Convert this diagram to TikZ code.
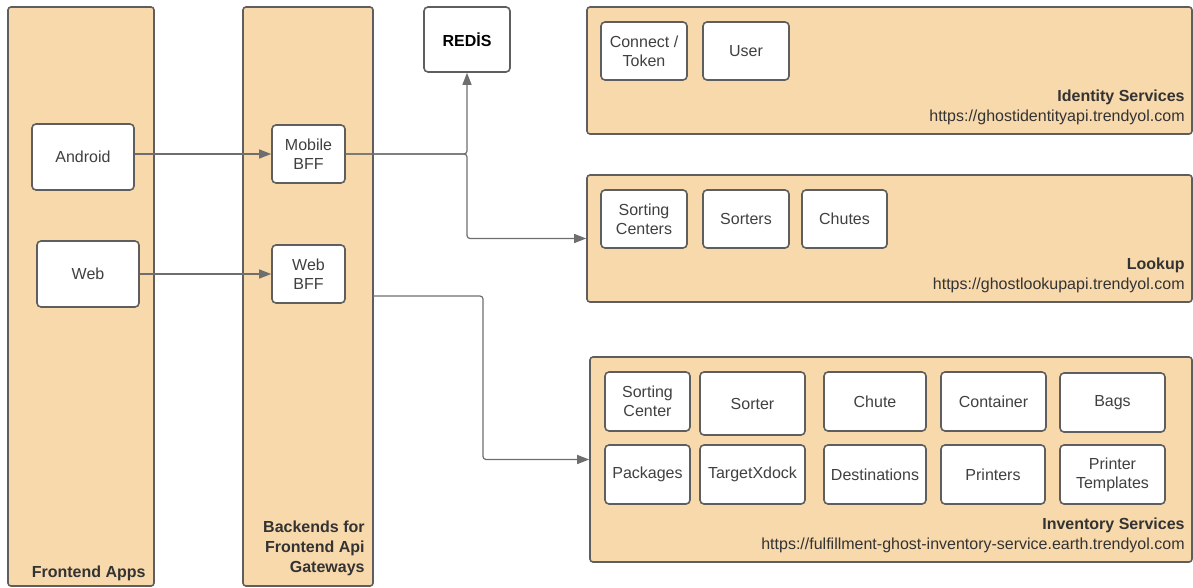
\documentclass[tikz,border=0pt]{standalone}
\usepackage{fontspec}
\setmainfont{Liberation Sans}
\usetikzlibrary{arrows.meta}

\definecolor{groupfill}{HTML}{F8D9AC}
\definecolor{edgegray}{HTML}{5E5E5E}
\definecolor{textgray}{HTML}{404040}
\definecolor{linegray}{HTML}{6E6E6E}

\begin{document}
\begin{tikzpicture}[
    x=1pt, y=-1pt,
    every node/.style={font=\fontsize{16}{19}\selectfont, text=textgray},
    group/.style={draw=edgegray, line width=1.6pt, fill=groupfill, rounded corners=3pt, inner sep=0pt},
    box/.style={draw=edgegray, line width=1.6pt, fill=white, rounded corners=4pt, align=center,
        inner sep=0pt, minimum width=86pt, minimum height=58pt},
    title/.style={anchor=south east, align=right, inner sep=0pt, font=\fontsize{16}{20}\selectfont, text=black!80},
    conn/.style={draw=linegray, line width=1.2pt, rounded corners=3pt, -{Triangle[length=12pt,width=9pt]}}
]
    \useasboundingbox (0,0) rectangle (1193,588);

    % groups
    \node[group, minimum width=146, minimum height=579] (fecol) at (81,296.5) {};
    \node[group, minimum width=130, minimum height=579] (bffcol) at (308,296.5) {};
    \node[group, minimum width=605, minimum height=127] (identity) at (889.5,70.5) {};
    \node[group, minimum width=605, minimum height=127] (lookup) at (889.5,238.5) {};
    \node[group, minimum width=602, minimum height=205] (inventory) at (891,459.5) {};

    \node[title] at ([shift={(-9,-6)}]fecol.south east) {\textbf{Frontend Apps}};
    \node[title] at ([shift={(-9,-11)}]bffcol.south east) {\textbf{Backends for}\\\textbf{Frontend Api}\\\textbf{Gateways}};
    \node[title] at ([shift={(-8,-10)}]identity.south east) {\textbf{Identity Services}\\https://ghostidentityapi.trendyol.com};
    \node[title] at ([shift={(-8,-10)}]lookup.south east) {\textbf{Lookup}\\https://ghostlookupapi.trendyol.com};
    \node[title] at ([shift={(-8,-10)}]inventory.south east) {\textbf{Inventory Services}\\https://fulfillment-ghost-inventory-service.earth.trendyol.com};

    % apps and gateways
    \node[box, minimum width=102, minimum height=66] (android) at (83,157) {Android};
    \node[box, minimum width=102, minimum height=66] (web) at (88,274) {Web};
    \node[box, minimum width=73] (mobilebff) at (308.5,154) {Mobile\\BFF};
    \node[box, minimum width=73] (webbff) at (308.5,274) {Web\\BFF};
    \node[box, minimum height=65, text=black] (redis) at (467,39.5) {\textbf{REDİS}};

    % services
    \node[box] (token) at (644,51) {Connect /\\Token};
    \node[box] (user) at (746,51) {User};
    \node[box] (centers) at (644,219) {Sorting\\Centers};
    \node[box] (sorters) at (746,219) {Sorters};
    \node[box, minimum width=85] (chutes) at (844.5,219) {Chutes};

    \foreach \id/\x/\y/\w/\h/\txt in {
        center/647.5/401.5/85/59/{Sorting\\Center},
        sorter/752.5/403.5/105/63/Sorter,
        chute/875/401.5/102/59/Chute,
        container/993.5/401.5/105/59/Container,
        bags/1112.5/402.5/105/59/Bags,
        packages/647.5/474.5/85/59/Packages,
        xdock/752.5/474.5/105/59/TargetXdock,
        destinations/875/474.5/102/59/Destinations,
        printers/993/474.5/104/59/Printers,
        templates/1112.5/474.5/105/59/{Printer\\Templates}}
        \node[box, minimum width=\w, minimum height=\h] (\id) at (\x,\y) {\txt};

    % connectors
    \coordinate (split) at (redis.south |- mobilebff);
    \coordinate (webout) at (373,296);
    \coordinate (invbend) at (483,296);

    \draw[conn] (android.east |- mobilebff) -- (mobilebff);
    \draw[conn] (web) -- (webbff);
    \draw[conn] (mobilebff) -- (split) -- (redis.south);
    \draw[conn] (mobilebff) -- (split) |- (lookup.west);
    \draw[conn] (webout) -- (invbend) |- (inventory.west);
\end{tikzpicture}
\end{document}
